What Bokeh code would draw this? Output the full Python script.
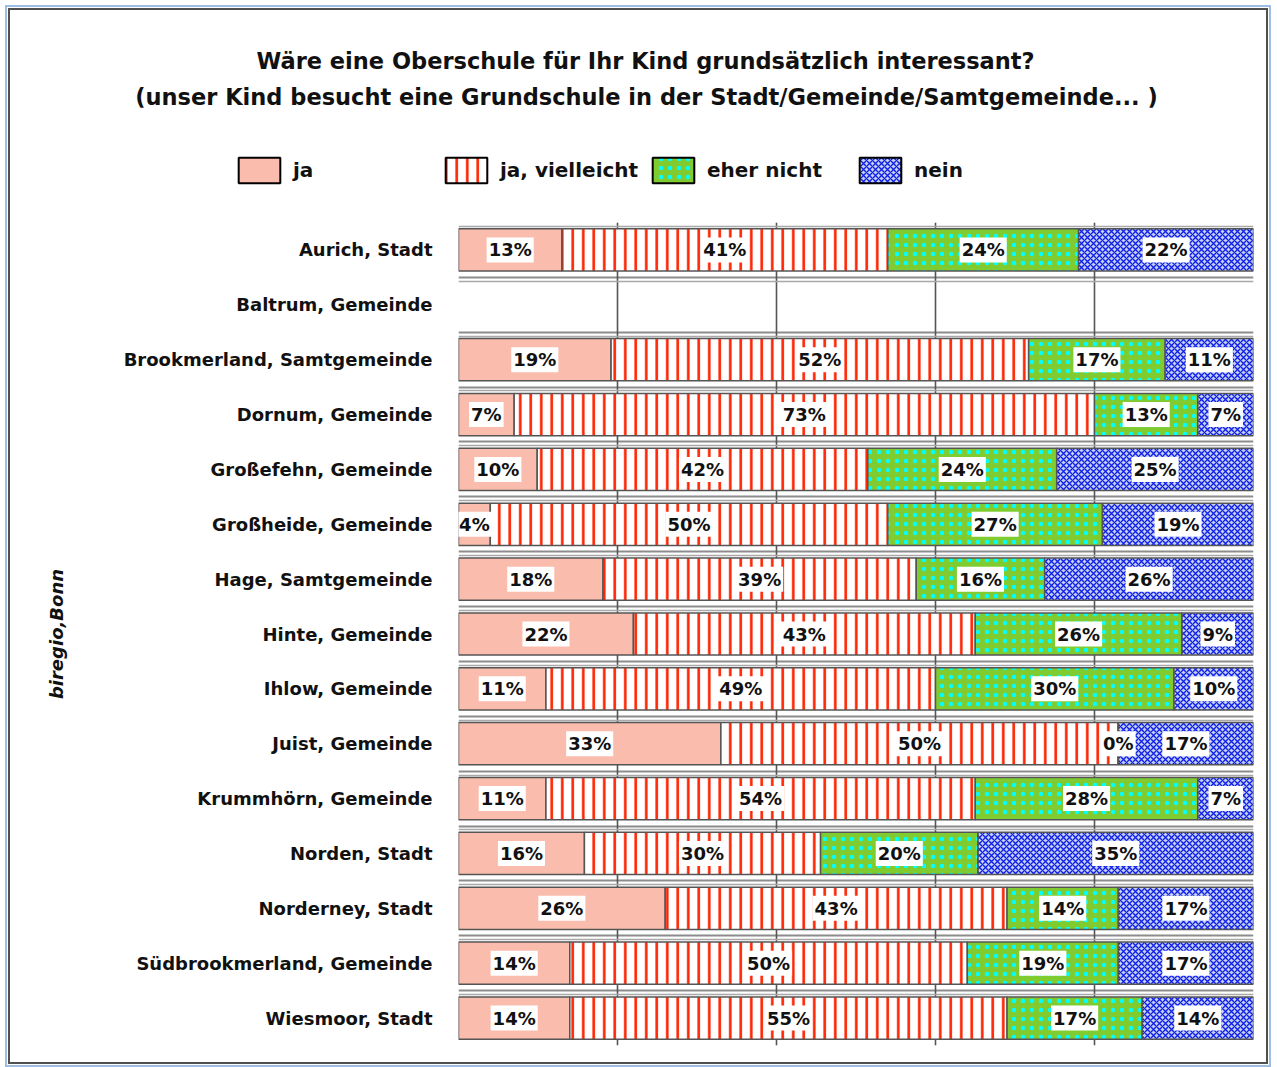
from bokeh.plotting import figure
from bokeh.layouts import column, row
from bokeh.models import (ColumnDataSource, FixedTicker, Grid, Legend, LegendItem,
                          Label, Range1d)
from bokeh.core.properties import value
from bokeh.embed import file_html
from bokeh.resources import INLINE

# ---------------- data ----------------
categories = ["Aurich, Stadt", "Baltrum, Gemeinde", "Brookmerland, Samtgemeinde",
              "Dornum, Gemeinde", "Großefehn, Gemeinde", "Großheide, Gemeinde",
              "Hage, Samtgemeinde", "Hinte, Gemeinde", "Ihlow, Gemeinde",
              "Juist, Gemeinde", "Krummhörn, Gemeinde", "Norden, Stadt",
              "Norderney, Stadt", "Südbrookmerland, Gemeinde", "Wiesmoor, Stadt"]
ja = [13, None, 19, 7, 10, 4, 18, 22, 11, 33, 11, 16, 26, 14, 14]
ja_vielleicht = [41, None, 52, 73, 42, 50, 39, 43, 49, 50, 54, 30, 43, 50, 55]
eher_nicht = [24, None, 17, 13, 24, 27, 16, 26, 30, 0, 28, 20, 14, 19, 17]
nein = [22, None, 11, 7, 25, 19, 26, 9, 10, 17, 7, 35, 17, 17, 14]
series_names = ["ja", "ja, vielleicht", "eher nicht", "nein"]
x_ticks = [0, 20, 40, 60, 80, 100]

title_1 = "Wäre eine Oberschule für Ihr Kind grundsätzlich interessant?"
title_2 = "(unser Kind besucht eine Grundschule in der Stadt/Gemeinde/Samtgemeinde... )"
credit = "biregio,Bonn"

FONT = "DejaVu Sans"
TXT = "#111111"

series = [ja, ja_vielleicht, eher_nicht, nein]
n = len(categories)

# stacked segments (normalised to 100 per row)
seg = [dict(y=[], left=[], right=[]) for _ in series]
lab = dict(x=[], y=[], text=[])
for i in range(n):
    vals = [s[i] for s in series]
    if any(v is None for v in vals):
        continue
    total = float(sum(vals))
    cum = 0.0
    for k, v in enumerate(vals):
        l = cum / total * 100
        r = (cum + v) / total * 100
        seg[k]["y"].append(i)
        seg[k]["left"].append(l)
        seg[k]["right"].append(r)
        lab["x"].append((l + r) / 2)
        lab["y"].append(i)
        lab["text"].append(f"{v}%")
        cum += v

styles = [
    dict(fill_color="#fabcad"),
    dict(fill_color="white", hatch_pattern="vertical_line", hatch_color="#ff2200",
         hatch_scale=10.5, hatch_weight=2.6),
    dict(fill_color="#80cc30", hatch_pattern="dot", hatch_color="#00ffff",
         hatch_scale=9, hatch_weight=1.0),
    dict(fill_color="#c6d0f2", hatch_pattern="diagonal_cross", hatch_color="#1020e8",
         hatch_scale=6, hatch_weight=1.4),
]
bar_line = dict(line_color="#555555", line_width=1.5)
sources = [ColumnDataSource(s) for s in seg]

W = 1256

# ---------------- header (titles + legend) ----------------
head = figure(width=W, height=212, x_range=Range1d(0, W), y_range=Range1d(0, 212),
              x_axis_location=None, y_axis_location=None, output_backend="svg",
              toolbar_location=None, min_border=0)
head.outline_line_color = None
head.xgrid.visible = False
head.ygrid.visible = False

legend_renderers = []
for k in range(len(series)):
    r = head.hbar(y="y", left="left", right="right", height=1, source=sources[k],
                  line_color="black", line_width=2, **styles[k])
    r.visible = False  # only used for the legend swatches
    legend_renderers.append(r)

legend = Legend(items=[LegendItem(label=nm, renderers=[r])
                       for nm, r in zip(series_names, legend_renderers)],
                orientation="horizontal", location=(223, 36),
                glyph_width=52, glyph_height=32, label_width=143, label_standoff=8,
                spacing=4, padding=0, margin=0, border_line_color=None,
                background_fill_alpha=0, inactive_fill_alpha=0,
                label_text_font=FONT, label_text_font_style="bold",
                label_text_font_size="20px", label_text_color=TXT)
head.add_layout(legend)

head.add_layout(Label(x=635, y=162, x_units="screen", y_units="screen", text=title_1,
                      text_align="center", text_baseline="middle", text_font=FONT,
                      text_font_style="bold", text_font_size="22.5px", text_color=TXT))
head.add_layout(Label(x=636, y=126, x_units="screen", y_units="screen", text=title_2,
                      text_align="center", text_baseline="middle", text_font=FONT,
                      text_font_style="bold", text_font_size="22.5px", text_color=TXT))

# ---------------- main chart ----------------
p = figure(width=W, height=840,
           x_range=Range1d(0, 100), y_range=Range1d(n - 0.5, -0.5),
           x_axis_location=None, output_backend="svg", toolbar_location=None,
           min_border_left=448, min_border_right=13, min_border_top=0,
           min_border_bottom=17)
p.outline_line_color = None

xgrid = Grid(dimension=0, ticker=FixedTicker(ticks=x_ticks),
             grid_line_color="#555555", grid_line_width=1.6)
p.add_layout(xgrid)

# double separator lines between rows
p.ygrid.ticker = FixedTicker(ticks=[i - 0.5 for i in range(n + 1)])
p.ygrid.grid_line_color = "#8c8c8c"
p.ygrid.grid_line_width = 2
sep2 = Grid(dimension=1, ticker=FixedTicker(ticks=[i - 0.43 for i in range(n + 1)]),
            grid_line_color="#a8a8a8", grid_line_width=1.5)
p.add_layout(sep2)

for k in range(len(series)):
    p.hbar(y="y", left="left", right="right", height=0.77,
           source=sources[k], **bar_line, **styles[k])

p.text(x="x", y="y", text="text", source=ColumnDataSource(lab),
       text_align="center", text_baseline="middle", text_font=value(FONT),
       text_font_style="bold", text_font_size="18px", text_color=TXT,
       background_fill_color="white", padding=2)

ax = p.yaxis[0]
ax.ticker = FixedTicker(ticks=list(range(n)))
ax.major_label_overrides = {i: c for i, c in enumerate(categories)}
ax.major_tick_line_color = None
ax.minor_tick_line_color = None
ax.axis_line_color = None
ax.major_label_standoff = 20
ax.major_label_text_font = FONT
ax.major_label_text_font_style = "bold"
ax.major_label_text_font_size = "18px"
ax.major_label_text_color = TXT
ax.axis_label = credit
ax.axis_label_standoff = 54
ax.axis_label_text_font = FONT
ax.axis_label_text_font_style = "bold italic"
ax.axis_label_text_font_size = "18px"
ax.axis_label_text_color = TXT

layout = column(row(head, spacing=0), p, spacing=0)
layout.styles = {"margin": "8px 0 0 8px", "border": "2px solid #505050",
                 "box-shadow": "0 0 0 1px #ffffff, 0 0 0 3px #9dbde3"}

open("out.html", "w").write(file_html(layout, INLINE))
